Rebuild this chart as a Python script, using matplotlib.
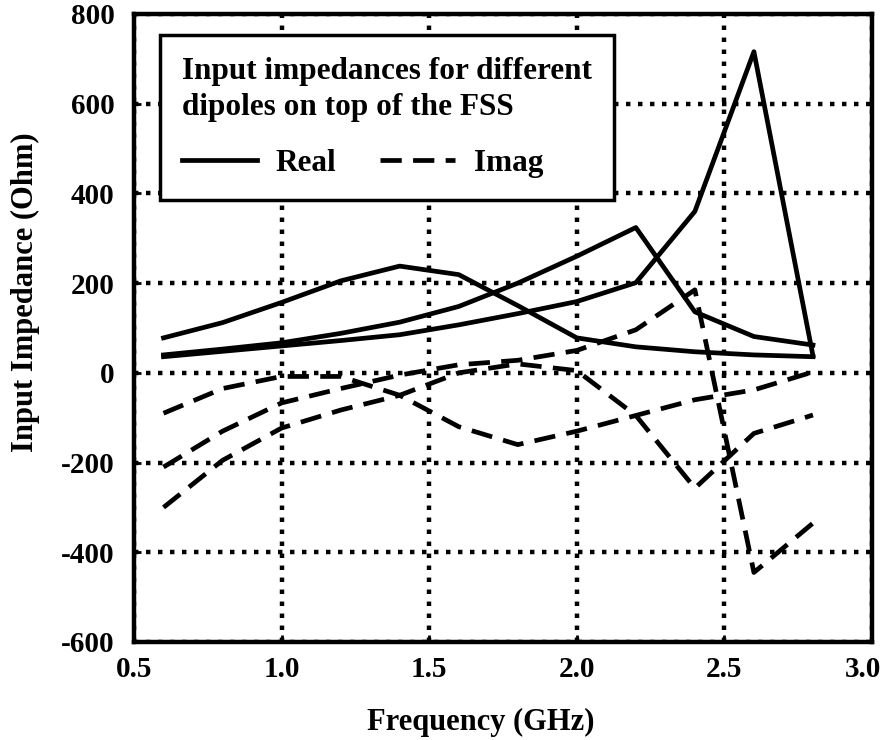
import matplotlib
matplotlib.use("Agg")
import matplotlib.pyplot as plt
import matplotlib.transforms as mtransforms
from matplotlib.lines import Line2D


plt.rcParams["font.family"] = ["Liberation Serif", "DejaVu Serif"]
plt.rcParams["font.weight"] = "bold"
plt.rcParams["axes.labelweight"] = "bold"
plt.rcParams["axes.unicode_minus"] = False


# -------------------------------------------------
# Data
# -------------------------------------------------

freq = [0.6, 0.8, 1.0, 1.2, 1.4, 1.6, 1.8, 2.0, 2.2, 2.4, 2.6, 2.8]

real_a = [78, 112, 157, 205, 238, 219, 150, 78, 58, 47, 40, 36]
real_b = [40, 53, 67, 88, 113, 148, 200, 260, 324, 136, 81, 62]
real_c = [36, 48, 60, 72, 85, 107, 132, 159, 201, 360, 716, 38]

imag_a = [-90, -35, -8, -8, -50, -120, -160, -130, -95, -60, -38, 2]
imag_b = [-210, -130, -67, -35, -5, 18, 28, 50, 96, 185, -445, -335]
imag_c = [-300, -195, -123, -83, -50, 0, 20, 5, -95, -257, -135, -94]

x_ticks = [0.5, 1.0, 1.5, 2.0, 2.5, 3.0]
y_ticks = [-600, -400, -200, 0, 200, 400, 600, 800]


# -------------------------------------------------
# Figure
# -------------------------------------------------

fig = plt.figure(figsize=(8.87, 7.40), dpi=100)
ax = fig.add_axes([134 / 887, (740 - 642) / 740, 738 / 887, 628 / 740])

line_kw = dict(color="black", linewidth=3.4)
dash_kw = dict(color="black", linewidth=3.4, dashes=(4.5, 2.4))

for series in (real_a, real_b, real_c):
    ax.plot(freq, series, **line_kw)

for series in (imag_a, imag_b, imag_c):
    ax.plot(freq, series, **dash_kw)

ax.set_xlim(0.5, 3.0)
ax.set_ylim(-600, 800)
ax.set_xticks(x_ticks)
ax.set_xticklabels([f"{t:.1f}" for t in x_ticks])
ax.set_yticks(y_ticks)

ax.grid(True, color="black", linestyle=(0, (1, 1.7)), linewidth=3.2)
ax.set_axisbelow(True)

for spine in ax.spines.values():
    spine.set_linewidth(3.2)

ax.tick_params(direction="in", length=5, width=2, labelsize=21)
ax.tick_params(axis="y", pad=14)
ax.tick_params(axis="x", pad=10)

# the last x label sits a little left of its grid line, as in the original
last_label = ax.get_xticklabels()[-1]
shift = mtransforms.ScaledTranslation(-9 / 100, 0, fig.dpi_scale_trans)
last_label.set_transform(last_label.get_transform() + shift)

ax.set_xlabel("Frequency (GHz)", fontsize=22)
ax.xaxis.set_label_coords(0.47, -0.105)
ax.set_ylabel("Input Impedance (Ohm)", fontsize=22)
ax.yaxis.set_label_coords(-0.128, 0.557)

handles = [
    Line2D([], [], **line_kw),
    Line2D([], [], **dash_kw),
]

leg = ax.legend(
    handles,
    ["Real", "Imag"],
    title="Input impedances for different\ndipoles on top of the FSS",
    ncol=2,
    loc="upper left",
    bbox_to_anchor=(0.035, 0.967),
    borderaxespad=0,
    fontsize=22.5,
    title_fontproperties={"size": 22.5, "weight": "bold"},
    frameon=True,
    fancybox=False,
    edgecolor="black",
    framealpha=1,
    handlelength=2.4,
    handletextpad=0.6,
    columnspacing=1.4,
    labelspacing=0.85,
    borderpad=0.7,
)
leg._legend_box.align = "left"
leg.get_title().set_linespacing(1.35)
leg.get_frame().set_linewidth(2.5)

fig.savefig("out.png", dpi=100)
plt.close(fig)
